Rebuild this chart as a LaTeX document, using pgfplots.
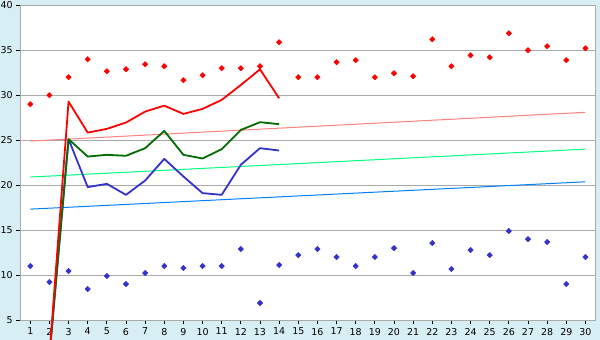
\documentclass[border=0pt]{standalone}
\usepackage{pgfplots}
\pgfplotsset{compat=1.18}
\usepackage{fontspec}
\setmainfont{DejaVu Sans}
\definecolor{bg}{RGB}{216,238,245}
\definecolor{gridc}{RGB}{170,170,170}
\definecolor{rl}{RGB}{255,0,0}
\definecolor{gl}{RGB}{0,110,0}
\definecolor{bl}{RGB}{51,51,204}
\definecolor{rt}{RGB}{255,128,128}
\definecolor{gt}{RGB}{0,255,128}
\definecolor{btr}{RGB}{0,128,255}
\begin{document}
\begin{tikzpicture}
\fill[bg] (-20.7bp,-20bp) rectangle (579.3bp,320bp);
\begin{axis}[
  at={(0,0)}, anchor=south west, scale only axis,
  width=574.3bp, height=314.7bp,
  xmin=0.5, xmax=30.5, ymin=5, ymax=40,
  xtick={1,...,30}, ytick={5,10,...,40},
  clip=false,
  axis background/.style={fill=white},
  axis line style={draw=gridc, line width=0.8bp},
  ymajorgrids, grid style={gridc, line width=0.8bp},
  tick align=outside, major tick length=4.5bp,
  tick pos=left,
  tick style={black, line width=0.8bp},
  ticklabel style={font=\fontsize{9.5}{11}\selectfont},
  /pgf/number format/assume math mode=true,
  line join=round,
]
% trend lines
\addplot[rt, line width=1bp] coordinates {(1,24.9) (30,28.1)};
\addplot[gt, line width=1bp] coordinates {(1,20.9) (30,24.0)};
\addplot[btr, line width=1bp] coordinates {(1,17.33) (30,20.37)};
% markers
\addplot[only marks, mark=square*, mark size=1.9bp, mark options={rotate=45, line width=0.5bp}, color=rl] coordinates {
(1,29.0) (2,30.0) (3,32.0) (4,34.0) (5,32.67) (6,32.89) (7,33.44) (8,33.22)
(9,31.67) (10,32.22) (11,33.0) (12,33.0) (13,33.22) (14,35.89) (15,32.0)
(16,32.0) (17,33.67) (18,33.89) (19,32.0) (20,32.44) (21,32.11) (22,36.22)
(23,33.22) (24,34.44) (25,34.22) (26,36.89) (27,35.0) (28,35.44) (29,33.89) (30,35.22)};
\addplot[only marks, mark=square*, mark size=1.9bp, mark options={rotate=45, line width=0.5bp}, color=bl] coordinates {
(1,11.0) (2,9.22) (3,10.44) (4,8.44) (5,9.89) (6,9.0) (7,10.22) (8,11.0)
(9,10.78) (10,11.0) (11,11.0) (12,12.89) (13,6.89) (14,11.11) (15,12.22)
(16,12.89) (17,12.0) (18,11.0) (19,12.0) (20,13.0) (21,10.22) (22,13.56)
(23,10.67) (24,12.78) (25,12.22) (26,14.89) (27,14.0) (28,13.67) (29,9.0) (30,12.0)};
% thick lines
\addplot[bl, line width=1.8bp] coordinates {
(2,1) (3,25.11) (4,19.78) (5,20.14) (6,18.92) (7,20.51) (8,22.92) (9,20.96)
(10,19.11) (11,18.92) (12,22.26) (13,24.11) (14,23.85)};
\addplot[gl, line width=1.8bp] coordinates {
(2,1) (3,25.11) (4,23.18) (5,23.37) (6,23.26) (7,24.11) (8,26.03) (9,23.37)
(10,22.96) (11,24.0) (12,26.14) (13,27.0) (14,26.78)};
\addplot[rl, line width=1.8bp] coordinates {
(2,1) (3,29.29) (4,25.84) (5,26.26) (6,26.96) (7,28.18) (8,28.84) (9,27.92)
(10,28.48) (11,29.48) (12,31.14) (13,32.88) (14,29.66)};
\end{axis}
\pgfresetboundingbox
\useasboundingbox (-20.7bp,-20bp) rectangle (579.3bp,320bp);
\end{tikzpicture}
\end{document}
